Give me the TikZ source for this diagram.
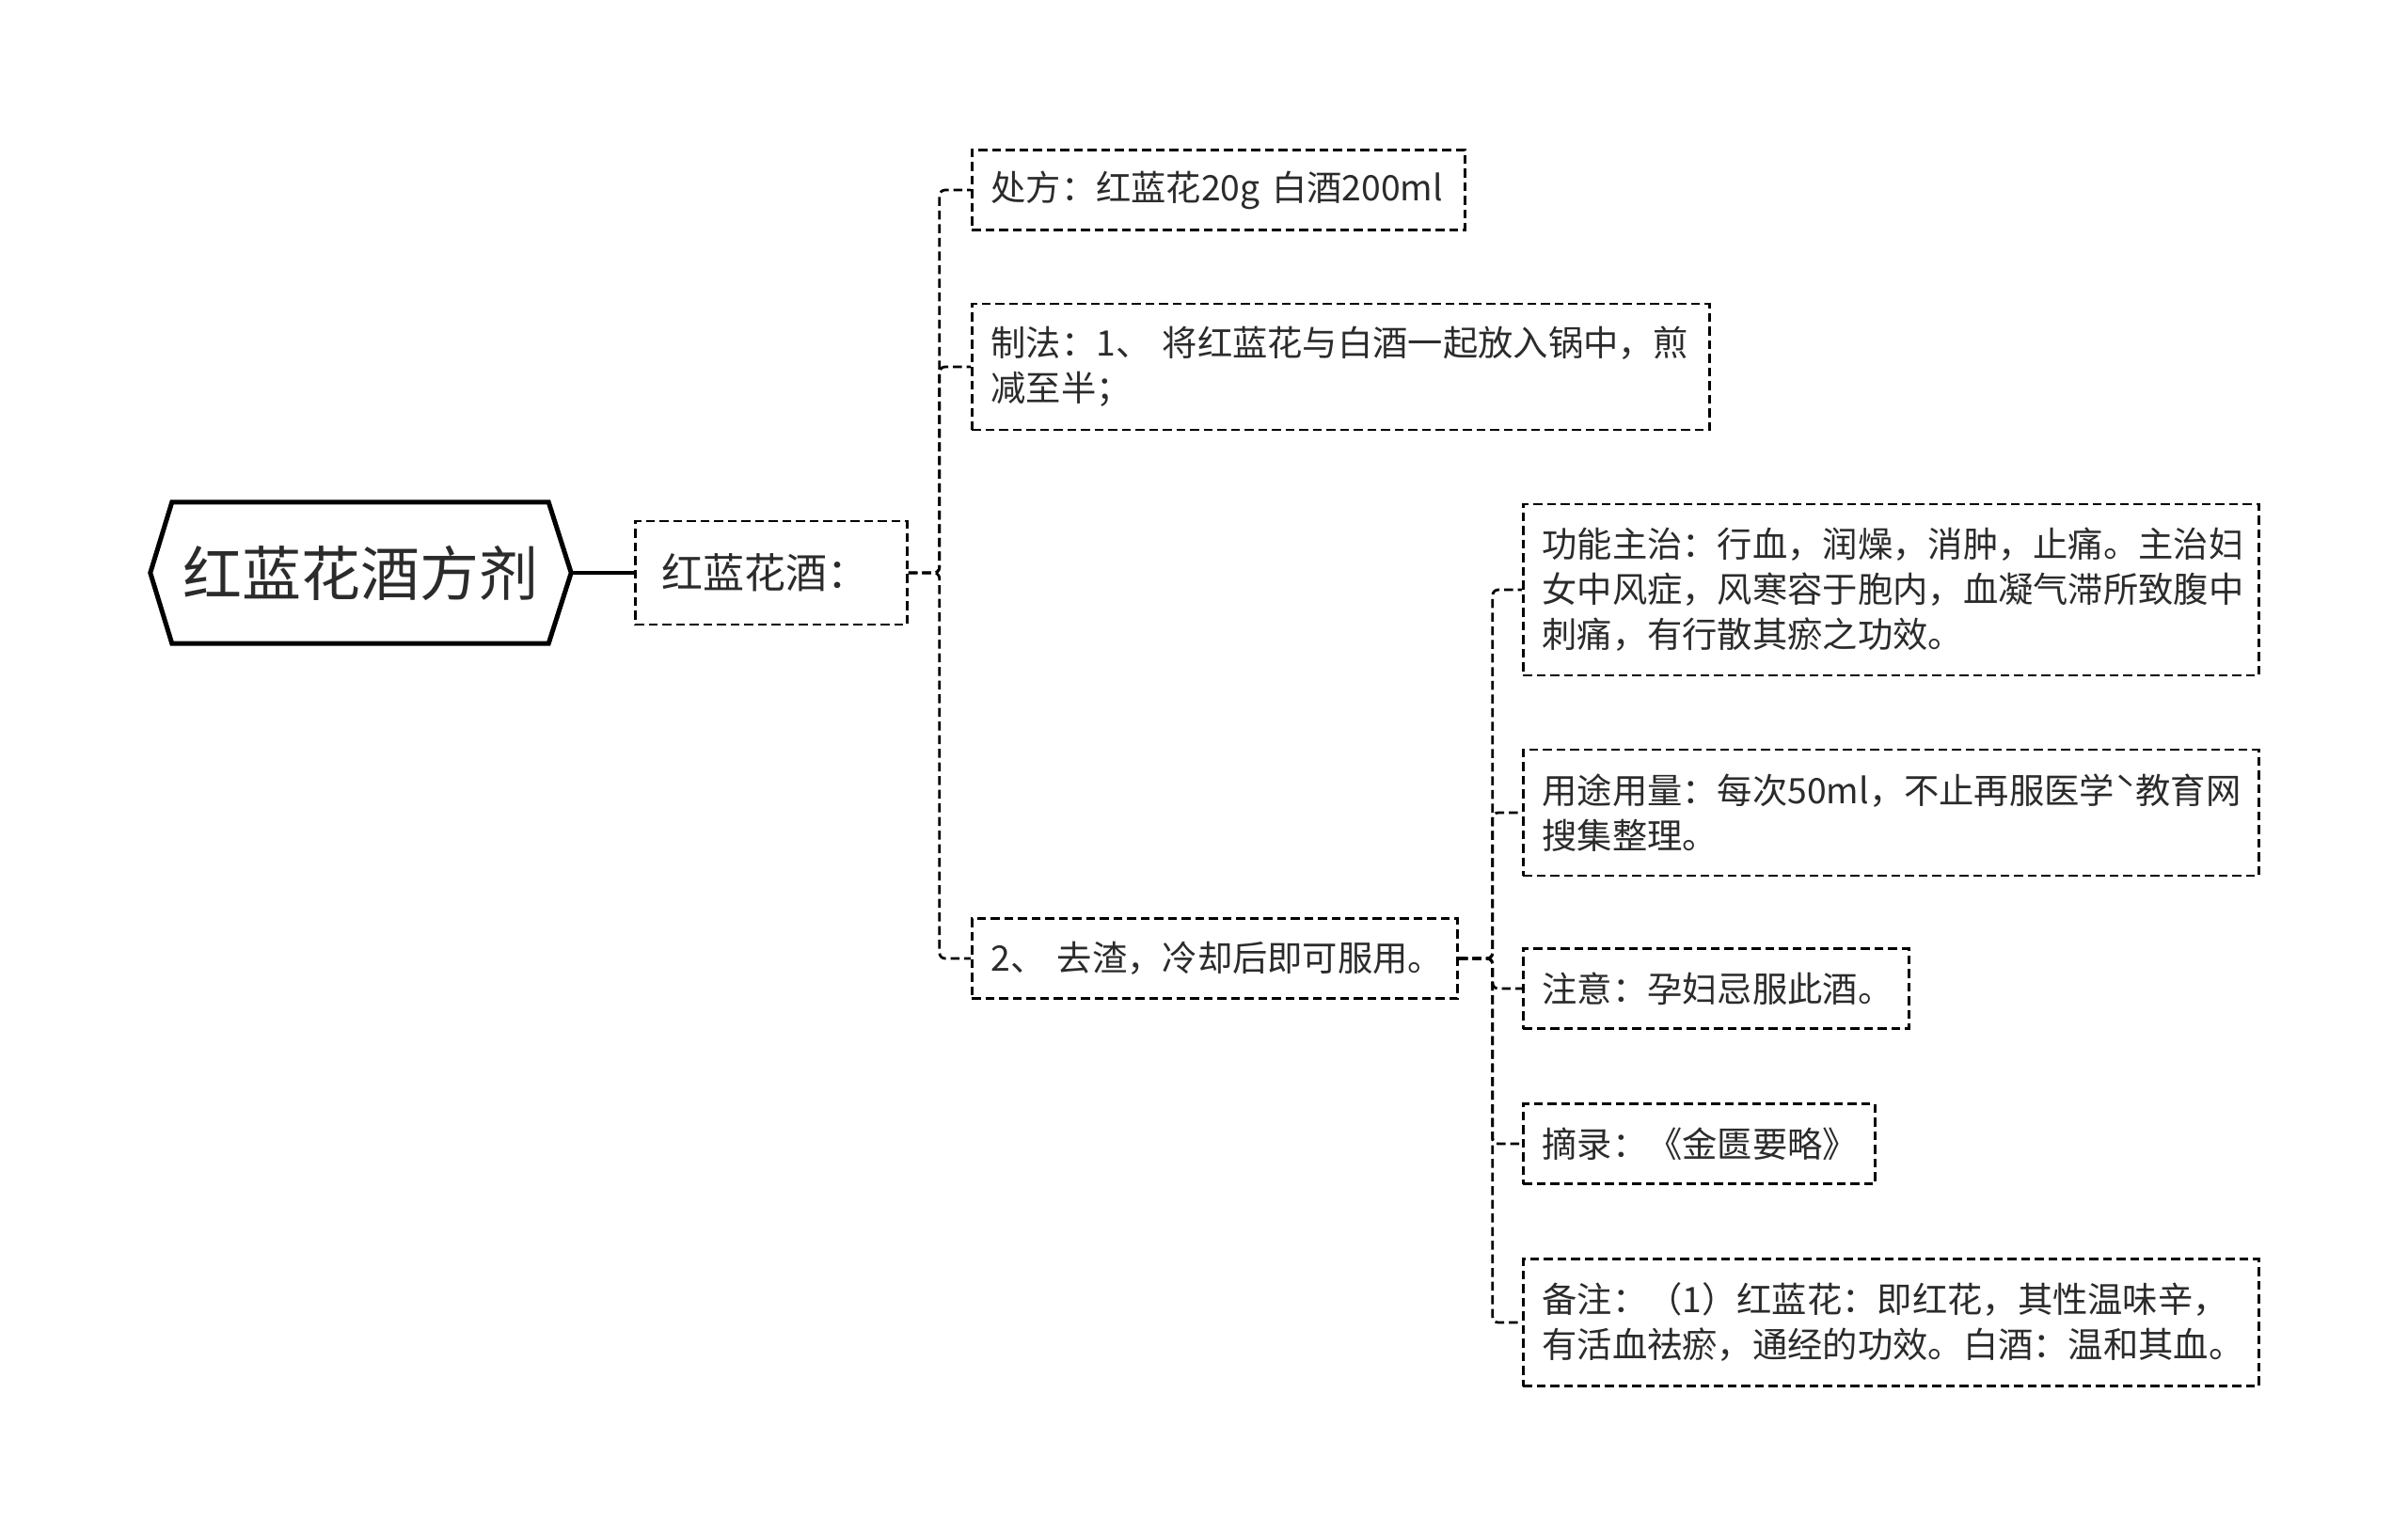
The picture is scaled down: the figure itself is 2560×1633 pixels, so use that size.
\documentclass[tikz,border=0pt]{standalone}
\usepackage{fontspec}
\newfontfamily\cjk{Noto Sans CJK SC}
\usetikzlibrary{calc}
\definecolor{txt}{HTML}{2B2B2B}
\begin{document}
\begin{tikzpicture}[x=1pt,y=1pt,
  box/.style={draw=black, line width=2.8pt, dash pattern=on 9.5pt off 5pt, anchor=west, align=left,
    inner xsep=20pt, inner ysep=4pt, font=\cjk\fontsize{37.3}{48}\selectfont, text=txt},
  conn/.style={draw=black, line width=2.8pt, dash pattern=on 9.5pt off 5pt, rounded corners=6pt}]
\useasboundingbox[fill=white] (0,0) rectangle (2560,-1633);

% root
\node[minimum width=447pt, minimum height=150pt, inner sep=0pt, font=\cjk\fontsize{63}{72}\selectfont, text=txt] (root) at (383.5,-609) {红蓝花酒方剂};
\draw[line width=5pt, line join=miter] (root.west) -- ($(root.north west)+(23,0)$) -- ($(root.north east)+(-24,0)$) -- (root.east) -- ($(root.south east)+(-24,0)$) -- ($(root.south west)+(23,0)$) -- cycle;

% level 1
\node[box, text width=233pt, inner xsep=28pt, minimum height=110pt, font=\cjk\fontsize{44}{52}\selectfont] (n1) at (674,-609) {红蓝花酒：};

% level 2
\node[box, text width=484pt, minimum height=85pt] (p1) at (1032,-202) {处方：红蓝花20g~白酒200ml};
\node[box, text width=744pt, minimum height=134pt] (p2) at (1032,-390) {制法：1、~将红蓝花与白酒一起放入锅中，煎\\减至半；};
\node[box, text width=476pt, minimum height=85pt] (p3) at (1032,-1019) {2、~去渣，冷却后即可服用。};

% level 3
\node[box, text width=742pt, minimum height=182pt] (c1) at (1618,-627) {功能主治：行血，润燥，消肿，止痛。主治妇\\女中风症，风寒容于胞内，血凝气滞所致腹中\\刺痛，有行散其瘀之功效。};
\node[box, text width=742pt, minimum height=134pt] (c2) at (1618,-864) {用途用量：每次50ml，不止再服医学ˋ教育网\\搜集整理。};
\node[box, text width=370pt, minimum height=85pt] (c3) at (1618,-1051) {注意：孕妇忌服此酒。};
\node[box, text width=334pt, minimum height=85pt] (c4) at (1618,-1216) {摘录：《金匮要略》};
\node[box, text width=742pt, minimum height=135pt] (c5) at (1618,-1406) {备注：（1）红蓝花：即红花，其性温味辛，\\有活血祛瘀，通经的功效。白酒：温和其血。};

% connectors
\draw[line width=4pt] (root.east) -- (n1.west);
\foreach \t in {p1,p2,p3}
  \draw[conn] (n1.east) -- ++(33,0) |- (\t.west);
\foreach \t in {c1,c2,c3,c4,c5}
  \draw[conn] (p3.east) -- ++(36,0) |- (\t.west);
\end{tikzpicture}
\end{document}
